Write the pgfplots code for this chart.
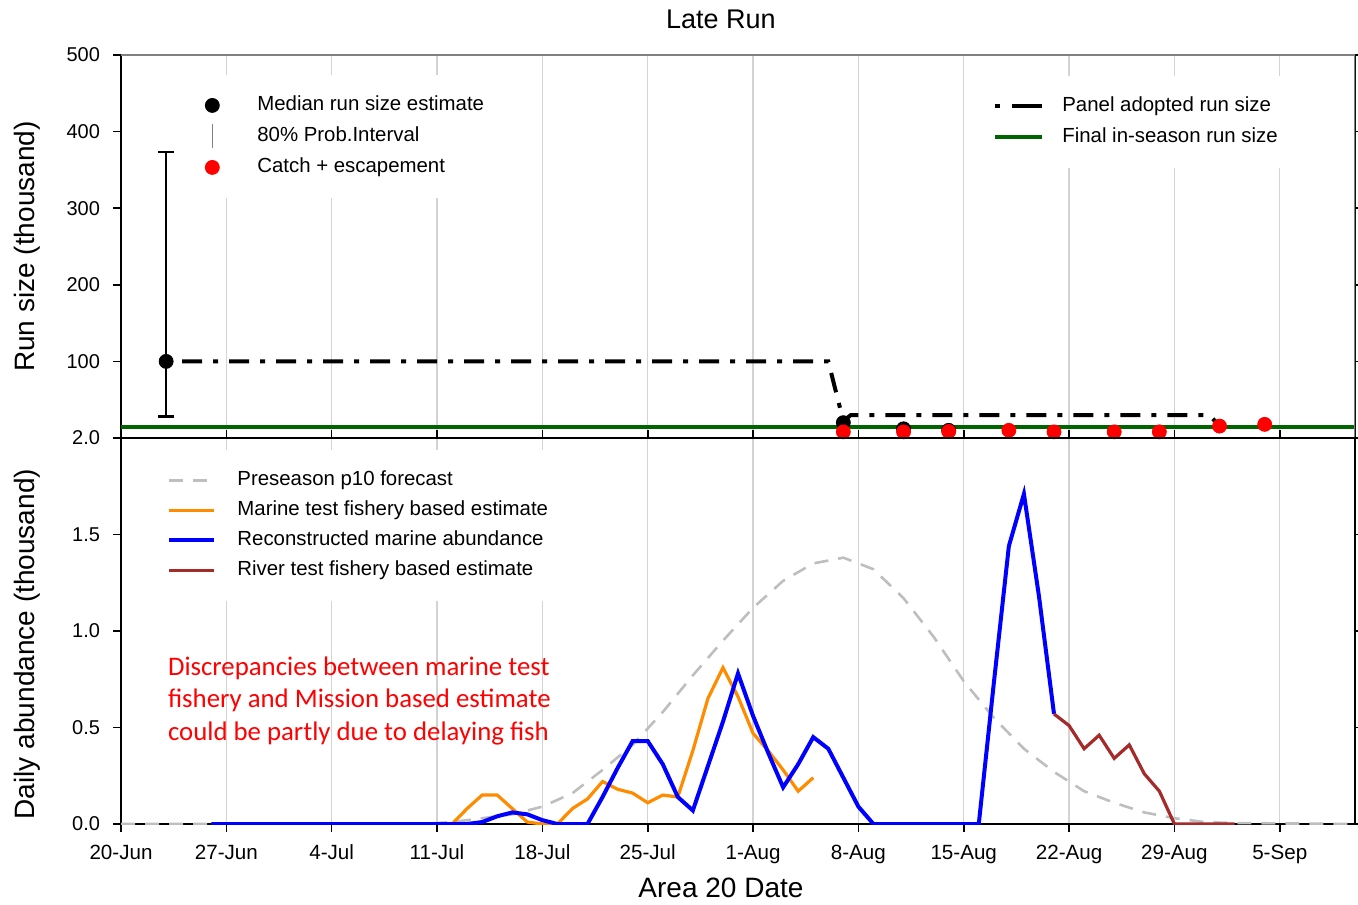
\documentclass[border=0pt]{standalone}
\usepackage{pgfplots}
\pgfplotsset{compat=1.18}
\usepackage{fontspec}
\setmainfont{Liberation Sans}
\newfontfamily\calibri{Carlito}

\definecolor{gridgray}{HTML}{D3D3D3}
\definecolor{fcgray}{HTML}{BEBEBE}
\definecolor{dorange}{HTML}{FF8C00}
\definecolor{dgreen}{HTML}{006400}
\definecolor{rbrown}{HTML}{A52A2A}

\pgfplotsset{
  panel/.style={
    scale only axis, width=617pt, xmin=0, xmax=82,
    xtick={0,7,...,77}, xmajorgrids,
    grid style={gridgray, line width=0.7pt},
    axis line style={black, line width=0.8pt},
    tick align=outside, major tick length=4pt,
    tick style={black, line width=0.8pt},
    ticklabel style={font=\fontsize{10}{12}\selectfont},
    yticklabel style={xshift=-3pt},
    ylabel style={font=\fontsize{14}{16}\selectfont, anchor=center},
    legend cell align=left,
  },
  legbox/.style={draw=none, fill=white, inner xsep=10pt, inner ysep=10pt,
    nodes={inner sep=0pt, text height=8pt, text depth=2.5pt,
      font=\fontsize{10.2}{12}\selectfont}},
}

\begin{document}
\begin{tikzpicture}

% upper panel: run size
\begin{axis}[panel, at={(60.5pt,233pt)}, anchor=south west, height=191.5pt,
  ymin=0, ymax=500, ytick={100,200,300,400,500},
  yticklabels={100,200,300,400,500},
  xticklabels={}, xtick style={draw=none},
  ylabel={Run size (thousand)},
  ylabel style={at={(axis description cs:-0.0762,0.5)}},
  title={Late Run},
  title style={font=\fontsize{13.5}{16}\selectfont,
    at={(axis description cs:0.4862,1.0914)}, anchor=center, yshift=-5.5pt},
  legend style={legbox, at={(axis description cs:0.0429,0.949)},
    anchor=north west, row sep=5pt, column sep=13.5pt}]

\addplot[black, line width=2pt, forget plot,
  dash pattern=on 2.5pt off 5.5pt on 10pt off 5.5pt]
  coordinates {(3,100) (47,100) (48,22) (48.5,30) (72.3,30) (73,16)};
\addplot[dgreen, line width=2pt, forget plot] coordinates {(0,14) (82,14)};
\addplot[black, only marks, mark=*, mark size=3.5pt, forget plot,
  error bars/.cd, y dir=both, y explicit,
  error bar style={line width=1.2pt, black},
  error mark options={rotate=90, mark size=4pt, line width=1.2pt, black}]
  coordinates {(3,100) += (0,273) -= (0,72)};
\addplot[black, only marks, mark=*, mark size=3.5pt, forget plot]
  coordinates {(48,20) (52,12) (55,10)};
\addplot[red, only marks, mark=*, mark size=3.5pt, forget plot]
  coordinates {(48,8) (52,8) (55,8.5) (59,10) (62,8) (66,8) (69,8) (73,15.5) (76,17.8)};

\addlegendimage{legend image code/.code={\path[draw=none, fill=none] (0pt,0pt) -- (18pt,0pt);
  \fill[black] (9pt,0pt) circle (3.5pt);}}
\addlegendentry{Median run size estimate}
\addlegendimage{legend image code/.code={\path[draw=none, fill=none] (0pt,0pt) -- (18pt,0pt);
  \draw[overlay, gray, line width=0.8pt] (9pt,-6pt) -- (9pt,6pt);}}
\addlegendentry{80\% Prob.Interval}
\addlegendimage{legend image code/.code={\path[draw=none, fill=none] (0pt,0pt) -- (18pt,0pt);
  \fill[red] (9pt,0pt) circle (3.5pt);}}
\addlegendentry{Catch + escapement}

\draw[gray, line width=0.8pt] (rel axis cs:0,1) -- (rel axis cs:1,1) -- (rel axis cs:1,0);
\end{axis}

% second legend of the upper panel
\begin{axis}[at={(60.5pt,233pt)}, anchor=south west, scale only axis,
  width=617pt, height=191.5pt, xmin=0, xmax=82, ymin=0, ymax=500, hide axis,
  legend cell align=left,
  legend style={legbox, at={(axis description cs:0.6904,0.9465)},
    anchor=north west, row sep=5pt, column sep=9pt}]
\addlegendimage{legend image code/.code={
  \draw[black, line width=2pt] (0pt,0pt) -- (2.5pt,0pt);
  \draw[black, line width=2pt] (8.5pt,0pt) -- (23.5pt,0pt);}}
\addlegendentry{Panel adopted run size}
\addlegendimage{legend image code/.code={
  \draw[dgreen, line width=2pt] (0pt,0pt) -- (23.5pt,0pt);}}
\addlegendentry{Final in-season run size}
\end{axis}

% lower panel: daily abundance
\begin{axis}[panel, at={(60.5pt,40pt)}, anchor=south west, height=193pt,
  ymin=0, ymax=2, ytick={0,0.5,1,1.5,2},
  yticklabels={0.0,0.5,1.0,1.5,2.0},
  xticklabels={20-Jun,27-Jun,4-Jul,11-Jul,18-Jul,25-Jul,1-Aug,8-Aug,15-Aug,22-Aug,29-Aug,5-Sep},
  xticklabel style={yshift=-3pt, font=\fontsize{10.3}{12}\selectfont},
  xlabel={Area 20 Date},
  xlabel style={font=\fontsize{14}{16}\selectfont,
    at={(axis description cs:0.4862,-0.166)}, anchor=center},
  ylabel={Daily abundance (thousand)},
  ylabel style={at={(axis description cs:-0.0762,0.466)}},
  legend image code/.code={\draw[#1] (0pt,0pt) -- (22.5pt,0pt);},
  legend style={legbox, at={(axis description cs:0.0211,0.970)},
    anchor=north west, row sep=4.5pt, column sep=10.5pt}]

\addplot[fcgray, line width=1.3pt, dash pattern=on 7pt off 5pt] coordinates {
  (0,0) (20,0) (22,0.01) (24,0.03) (26,0.05) (28,0.09) (30,0.16) (32,0.28)
  (34,0.41) (36,0.58) (38,0.77) (40,0.95) (42,1.12) (44,1.26) (46,1.35)
  (48,1.38) (50,1.32) (52,1.17) (54,0.97) (56,0.74) (58,0.55) (60,0.39)
  (62,0.27) (64,0.17) (66,0.11) (68,0.06) (70,0.03) (72,0.01) (74,0.005) (82,0)};
\addplot[dorange, line width=1.6pt] coordinates {
  (22,0) (23,0.08) (24,0.15) (25,0.15) (26,0.08) (27,0.01) (28,0) (29,0)
  (30,0.08) (31,0.13) (32,0.22) (33,0.18) (34,0.16) (35,0.11) (36,0.15)
  (37,0.14) (38,0.38) (39,0.65) (40,0.81) (41,0.66) (42,0.47) (43,0.38)
  (44,0.28) (45,0.17) (46,0.24)};
\addplot[blue, line width=2pt] coordinates {
  (6,0) (23,0) (24,0.01) (25,0.04) (26,0.06) (27,0.05) (28,0.02) (29,0) (31,0)
  (32,0.14) (33,0.29) (34,0.43) (35,0.43) (36,0.31) (37,0.14) (38,0.07)
  (39,0.30) (40,0.53) (41,0.78) (42,0.56) (43,0.37) (44,0.19) (45,0.31)
  (46,0.45) (47,0.39) (48,0.24) (49,0.09) (50,0) (57,0) (58,0.73) (59,1.44)
  (60,1.71) (61,1.18) (62,0.57)};
\addplot[rbrown, line width=1.6pt] coordinates {
  (62,0.57) (63,0.51) (64,0.39) (65,0.46) (66,0.34) (67,0.41) (68,0.26)
  (69,0.17) (70,0) (74,0)};
\legend{Preseason p10 forecast, Marine test fishery based estimate,
  Reconstructed marine abundance, River test fishery based estimate}

\node[anchor=north west, inner sep=0pt, align=left, text=red,
  font=\calibri\fontsize{13.4}{16.25}\selectfont]
  at (axis cs:3.1,0.868)
  {Discrepancies between marine test\\fishery and Mission based estimate\\could be partly due to delaying fish};
\end{axis}

\pgfresetboundingbox
\path (0pt,0pt) rectangle (679pt,452pt);
\end{tikzpicture}
\end{document}
